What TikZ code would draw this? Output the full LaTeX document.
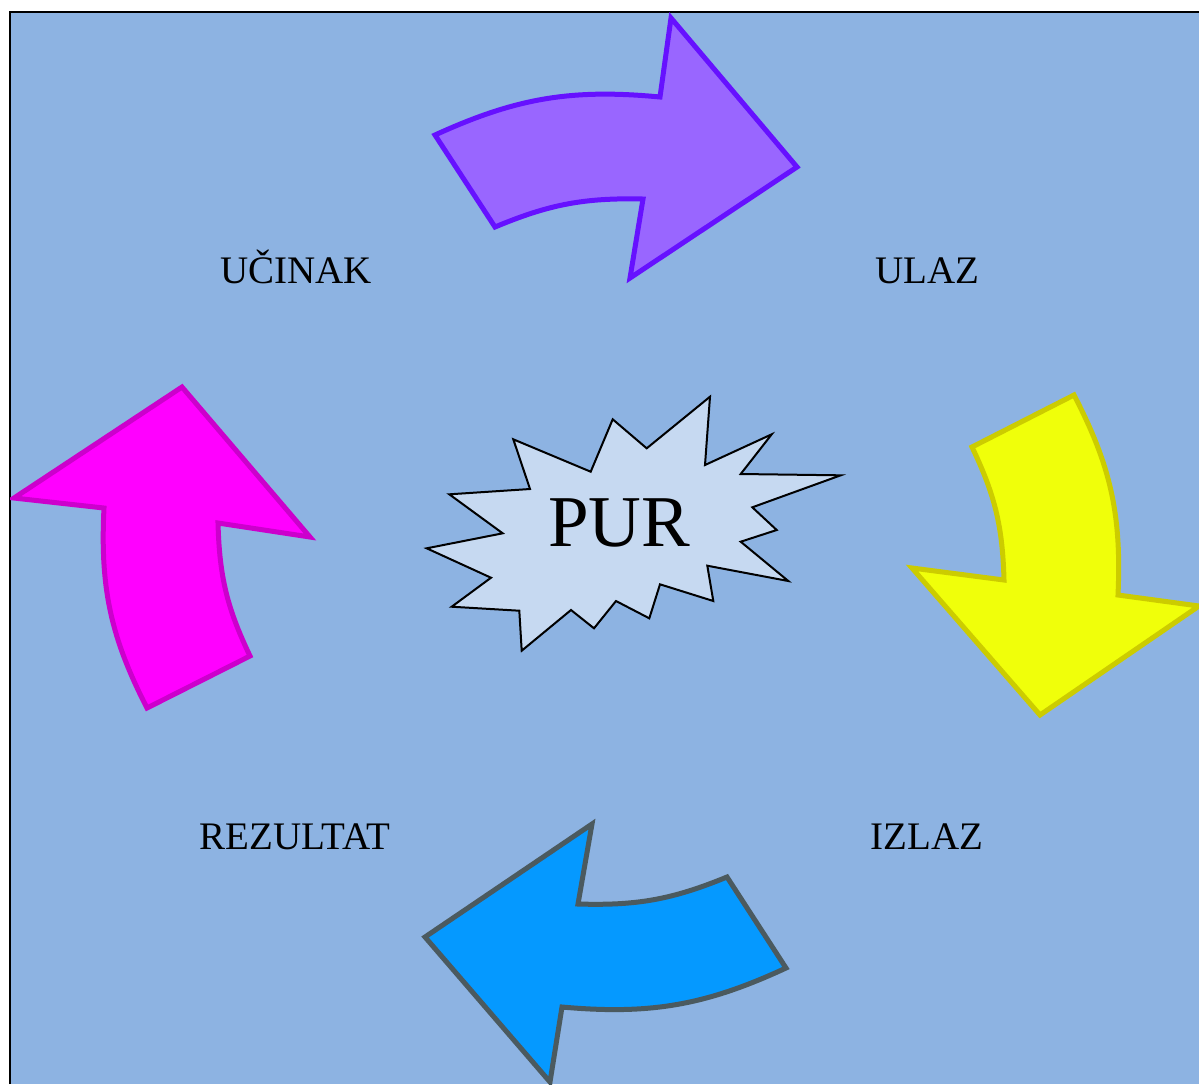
\documentclass[tikz,border=0pt]{standalone}
\usepackage{fontspec}
\setmainfont{Liberation Serif}
\definecolor{bgblue}{HTML}{8DB3E2}
\definecolor{burstfill}{HTML}{C6D9F1}
\definecolor{purplefill}{HTML}{9966FF}
\definecolor{purpleline}{HTML}{6611FF}
\definecolor{yellowfill}{HTML}{F0FF0A}
\definecolor{yellowline}{HTML}{CCCC00}
\definecolor{bluefill}{HTML}{0599FF}
\definecolor{blueline}{HTML}{4B5A5F}
\definecolor{magentafill}{HTML}{FF00FF}
\definecolor{magentaline}{HTML}{CC00CC}
\begin{document}
\begin{tikzpicture}[x=0.5pt,y=-0.5pt,
	cyclearrow/.style={line width=2.5pt,line join=miter},
	cyclelabel/.style={anchor=base,inner sep=0pt,font=\fontsize{19.5}{22}\selectfont}]
\useasboundingbox (0,0) rectangle (1199,1084);
\fill [white] (0,0) rectangle (1199,1084);
\fill [bgblue] (10,12) rectangle (1199,1084);
\draw [line width=1pt] (10,1084) -- (10,12) -- (1199,12);
\begin{scope}
\clip (10,12) rectangle (1199,1084);
\draw [cyclearrow,draw=purpleline,fill=purplefill] (435,135) to[bend left=15] (660,97)
	-- (671,18) -- (797,167) -- (630,278) -- (643,199) to[bend right=12] (495,227) -- cycle;
\draw [cyclearrow,draw=yellowline,fill=yellowfill] (1074,395) to[bend left=15] (1118,595)
	-- (1199,606) -- (1040,715) -- (912,568) -- (1004,580) to[bend right=12] (972,447) -- cycle;
\draw [cyclearrow,draw=blueline,fill=bluefill] (786,968) to[bend left=15] (562,1007)
	-- (550,1082) -- (425,937) -- (592,824) -- (578,904) to[bend right=12] (727,877) -- cycle;
\draw [cyclearrow,draw=magentaline,fill=magentafill] (147,708) to[bend left=15] (104,508)
	-- (14,498) -- (182,387) -- (310,537) -- (218,523) to[bend right=12] (250,656) -- cycle;
\end{scope}
\draw [line width=1pt,fill=burstfill] (513.3,439.3) -- (590.7,471.7) -- (612.7,419.3) -- (646.7,448.3)
	-- (710,396.7) -- (705,465) -- (771.7,434.3) -- (740.7,474) -- (840.7,475.3) -- (752.3,507.3)
	-- (776.7,530) -- (740.7,541.7) -- (788.3,581) -- (707.3,565.7) -- (713.3,601) -- (660,584.3)
	-- (649.3,618.3) -- (616,601) -- (594,628.3) -- (571,610) -- (521.7,650.7) -- (519.3,610.7)
	-- (451.7,606.7) -- (491,577.7) -- (426.7,548.3) -- (502.7,533.3) -- (449.3,494.3) -- (530,489) -- cycle;
\node (pur) [cyclelabel,font=\fontsize{36.5}{40}\selectfont] at (619,546.5) {PUR};
\node (ucinak) [cyclelabel] at (296,283) {UČINAK};
\node (ulaz) [cyclelabel] at (927,283) {ULAZ};
\node (rezultat) [cyclelabel] at (295,849) {REZULTAT};
\node (izlaz) [cyclelabel] at (927,849) {IZLAZ};
\end{tikzpicture}
\end{document}
